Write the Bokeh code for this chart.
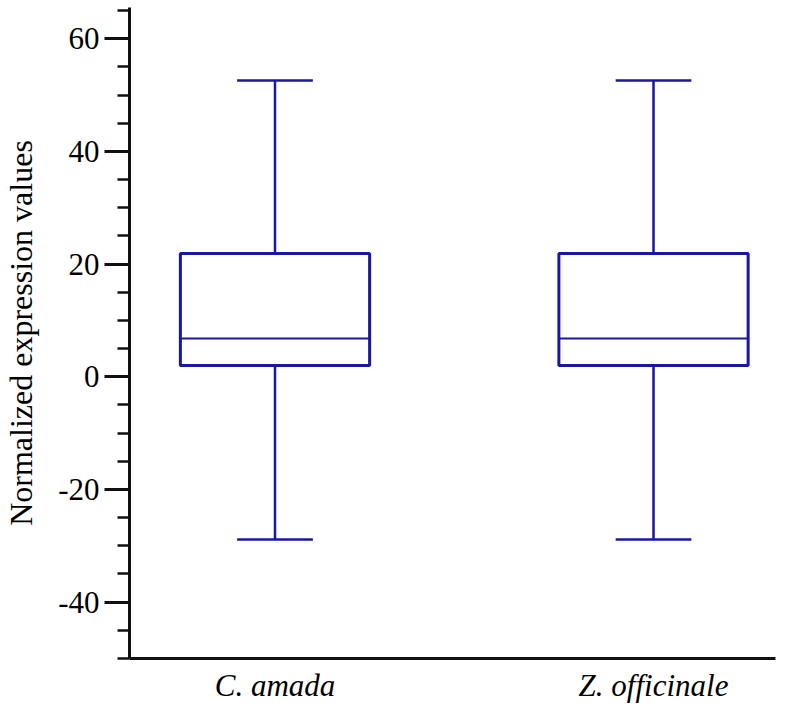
from bokeh.plotting import figure
from bokeh.models import Range1d, SingleIntervalTicker, FixedTicker, ColumnDataSource, PrintfTickFormatter
from bokeh.embed import file_html
from bokeh.resources import INLINE

# data
categories = ["C. amada", "Z. officinale"]
positions = [1, 2]
whisker_low = [-28.9, -28.9]
q1 = [2.0, 2.0]
median = [6.8, 6.8]
q3 = [21.9, 21.9]
whisker_high = [52.6, 52.6]

box_w = 0.5
cap_w = 0.2
blue = "#1717a0"

src = ColumnDataSource(dict(
    x=positions, lo=whisker_low, q1=q1, med=median, q3=q3, hi=whisker_high,
    left=[x - box_w / 2 for x in positions], right=[x + box_w / 2 for x in positions],
    cl=[x - cap_w / 2 for x in positions], cr=[x + cap_w / 2 for x in positions],
))

p = figure(frame_width=646, frame_height=651,
           x_range=Range1d(0.6156, 2.3223), y_range=Range1d(-50, 65.55),
           output_backend="svg", toolbar_location=None,
           min_border_left=120, min_border_right=17, min_border_top=7, min_border_bottom=0)

p.outline_line_color = None
p.xgrid.visible = False
p.ygrid.visible = False

# whiskers
p.segment(x0="x", y0="q3", x1="x", y1="hi", source=src, line_color=blue, line_width=2.5)
p.segment(x0="x", y0="lo", x1="x", y1="q1", source=src, line_color=blue, line_width=2.5)
p.segment(x0="cl", y0="hi", x1="cr", y1="hi", source=src, line_color=blue, line_width=2.5)
p.segment(x0="cl", y0="lo", x1="cr", y1="lo", source=src, line_color=blue, line_width=2.5)
# boxes
p.quad(left="left", right="right", bottom="q1", top="q3", source=src,
       fill_color="white", line_color=blue, line_width=3)
p.segment(x0="left", y0="med", x1="right", y1="med", source=src, line_color=blue, line_width=1.8)

# y axis
ya = p.yaxis[0]
ya.ticker = SingleIntervalTicker(interval=20, num_minor_ticks=4)
ya.formatter = PrintfTickFormatter(format="%d")
ya.axis_label = "Normalized expression values"
ya.axis_label_text_font = "Liberation Serif"
ya.axis_label_text_font_size = "32px"
ya.axis_label_text_font_style = "normal"
ya.axis_label_text_color = "black"
ya.axis_label_standoff = 16
ya.major_label_text_font = "Liberation Serif"
ya.major_label_text_font_size = "31px"
ya.major_label_text_color = "black"
ya.major_label_standoff = 5
ya.major_tick_out = 25
ya.major_tick_in = 0
ya.minor_tick_out = 12
ya.minor_tick_in = 0
ya.major_tick_line_width = 3
ya.minor_tick_line_width = 2.5
ya.axis_line_width = 3
ya.axis_line_color = "#111111"
ya.major_tick_line_color = "#111111"
ya.minor_tick_line_color = "#111111"

# x axis
xa = p.xaxis[0]
xa.ticker = FixedTicker(ticks=positions)
xa.major_label_overrides = {pos: cat for pos, cat in zip(positions, categories)}
xa.major_label_text_font = "Liberation Serif"
xa.major_label_text_font_style = "italic"
xa.major_label_text_font_size = "31px"
xa.major_label_text_color = "black"
xa.major_label_standoff = 9
xa.major_tick_out = 0
xa.major_tick_in = 0
xa.minor_tick_out = 0
xa.minor_tick_in = 0
xa.axis_line_width = 3
xa.axis_line_color = "#111111"

open("out.html", "w").write(file_html(p, INLINE))
